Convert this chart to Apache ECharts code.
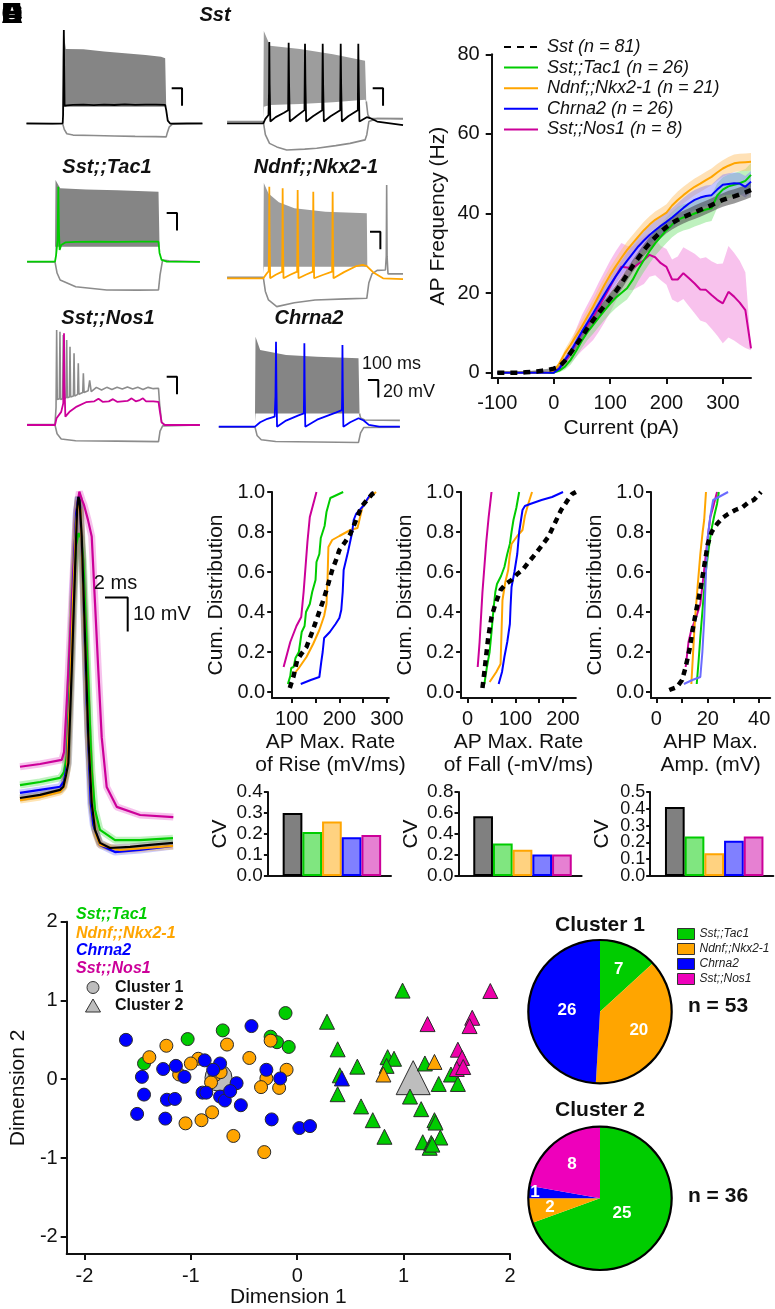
<!DOCTYPE html>
<html>
<head>
<meta charset="utf-8">
<script src="https://cdn.jsdelivr.net/npm/echarts@6.0.0/dist/echarts.min.js"></script>
<style>
html,body{margin:0;padding:0;background:#fff;}
#chart{width:775px;height:1309px;}
</style>
</head>
<body>
<div id="chart"></div>
<script>
// ===================== DATA =====================
const groups = ['Sst', 'Sst;;Tac1', 'Ndnf;;Nkx2-1', 'Chrna2', 'Sst;;Nos1'];
const groupN = [81, 26, 21, 26, 8];

// ---- Panel A: example traces [time (ms), Vm (mV)] ----
const sstL_main = [[-350,-65],[-100,-65.3],[0,-65],[4,-55],[8,10],[11,41.5],[14,0],[18,-45],[25,-47],[40,-44.5],[100,-44],[200,-43.6],[300,-44.2],[400,-43.7],[500,-44.1],[600,-43.5],[700,-44],[800,-43.6],[900,-43.8],[990,-44],[1000,-50],[1015,-62],[1040,-65.5],[1200,-65.2],[1350,-65]];
const sstL_hyp = [[-350,-65.5],[0,-65.5],[15,-72],[40,-77],[100,-78.5],[300,-79],[500,-79.5],[700,-80],[900,-80.3],[1000,-80.5],[1010,-76],[1030,-69],[1060,-66],[1350,-65.5]];
const sstL_env = {t:[0,8,30,200,400,600,800,950,990,1000], hi:[-50,40,20,19.6,17,15,13,11,9.3,-46], lo:[-60,-46,-46,-46,-46,-46,-46,-46,-46,-46]};

const sstR_main = [[-350,-65],[0,-65],[20,-60],[50,-55.5],[55,-30],[58,28],[61,-20],[68,-63],[120,-58],[200,-53],[240,-50],[245,27],[249,-20],[256,-63],[320,-57],[398,-50],[403,26],[407,-20],[414,-63],[480,-57],[569,-50],[574,26],[578,-20],[585,-63],[650,-57],[743,-50],[748,26],[752,-20],[759,-63],[820,-57],[913,-50],[918,26],[922,-20],[929,-63],[1000,-58],[1030,-59],[1100,-63],[1350,-67]];
const sstR_hyp = [[-350,-63],[0,-63],[20,-78],[60,-88],[130,-92],[226,-95.5],[400,-94.5],[516,-93.6],[700,-90.5],[838,-88],[983,-84],[1000,-78],[1020,-63],[1031,-61],[1100,-59.5],[1350,-60]];
const sstR_env = {t:[0,5,65,354,673,983,995], hi:[-50,40.6,23.5,19.8,14,6.4,-40], lo:[-60,-46,-44,-43,-41,-38,-40]};
const sstR_post = [[995,-40],[1010,-55],[1030,-59.3],[1350,-59.5]];

const tac1_main = [[-270,-65],[0,-65],[10,-58],[25,-40],[32,20.7],[38,-30],[45,-51.6],[60,-46],[100,-43],[200,-42.3],[400,-42],[600,-42.3],[800,-42],[1000,-42.2],[1010,-55],[1030,-63],[1080,-65],[1400,-65.3]];
const tac1_hyp = [[-270,-65.3],[0,-65.3],[20,-78],[50,-86],[200,-93.6],[500,-97.3],[800,-97.5],[1000,-97.3],[1015,-80],[1040,-63],[1100,-64],[1400,-65]];
const tac1_env = {t:[0,5,50,300,600,1000,1010], hi:[-50,28.4,18.9,17.5,16.5,15,-47.9], lo:[-60,-47.9,-47.9,-47.9,-47.9,-47.9,-47.9]};

const ndnf_main = [[-350,-65],[0,-65],[30,-60],[52,-57],[55,-30],[58,39.7],[61,-20],[66,-65],[120,-61],[182,-57.4],[184,-30],[187,37.9],[190,-20],[195,-65],[260,-61],[327,-57.4],[329,-30],[332,35.9],[335,-20],[340,-65],[410,-61],[478,-57.4],[480,-30],[483,34],[486,-20],[491,-65],[580,-61],[665,-57.4],[667,-30],[670,34],[673,-20],[678,-65],[780,-58],[900,-51],[960,-49.8],[1000,-51],[1060,-58],[1157,-65],[1350,-66]];
const ndnf_hyp = [[-350,-64],[0,-64],[20,-80],[50,-89.8],[130,-97.4],[300,-93],[500,-89.8],[800,-88.5],[1000,-87.9],[1020,-70],[1050,-60],[1100,-56],[1180,-55.5],[1188,-40],[1192,41.6],[1196,-40],[1205,-60],[1260,-60],[1350,-60]];
const ndnf_env = {t:[0,5,50,150,300,600,1000,1005], hi:[-50,43.8,32,22,15,11,9.3,-51.7], lo:[-60,-51.7,-51.7,-51.7,-51.7,-51.7,-51.7,-51.7]};

const nos1_main = [[-270,-65],[0,-65],[15,-57.4],[60,-50],[80,-40],[87,39.8],[92,-20],[100,-55.5],[140,-50],[210,-44],[300,-39],[380,-38],[420,-35],[460,-38.5],[520,-38],[560,-35.5],[600,-38.5],[650,-38],[700,-37.5],[740,-34.6],[780,-38],[820,-36.5],[850,-34.5],[880,-38],[950,-38],[1000,-38.5],[1014,-50],[1030,-62],[1060,-65],[1400,-65]];
const nos1_hyp = [[-270,-65],[0,-65],[20,-75],[60,-81],[200,-83],[600,-83.5],[1000,-84],[1015,-72],[1040,-66],[1400,-65]];
const nos1_gray = [[-270,-64.5],[0,-64.5],[10,-45],[16,43.6],[22,-36],[42,-35],[48,41.6],[54,-36],[74,-35],[80,37.9],[86,-35],[107,-34],[113,32.1],[119,-34],[139,-33],[145,24.5],[151,-33],[178,-32],[184,16.9],[190,-32],[219,-30],[225,5.5],[231,-30],[268,-28],[274,-5.9],[281,-28],[320,-26],[335,-14],[350,-27],[400,-22],[450,-25],[500,-22],[550,-24.5],[600,-22],[650,-24],[700,-21.5],[750,-24],[800,-22],[850,-24.5],[900,-22],[950,-23.5],[1000,-23],[1010,-40],[1030,-62],[1060,-65],[1400,-65]];

const chrna2_main = [[-350,-65],[0,-65],[50,-60],[120,-56],[190,-53.6],[198,-30],[203,32],[207,-20],[213,-65],[300,-58],[420,-52],[472,-49.7],[474,-30],[477,30.3],[480,-20],[486,-65],[600,-57],[780,-49],[840,-46],[842,-30],[845,28.4],[848,-20],[854,-65],[920,-60],[1000,-55.4],[1050,-58],[1100,-63],[1200,-65],[1400,-65]];
const chrna2_hyp = [[-350,-65.5],[0,-65.5],[20,-75],[60,-80],[200,-82],[600,-82.5],[1000,-83],[1020,-72],[1050,-66],[1400,-65.5]];
const chrna2_env = {t:[0,5,50,300,600,1000,1010], hi:[-50,37.9,22.7,17,15,13.2,-50], lo:[-60,-50,-50,-50,-50,-50,-50]};
const chrna2_post = [[1010,-50],[1020,-55],[1060,-57.3],[1400,-57.8]];

// ---- Panel B: F-I curves (mean and SEM, Hz) ----
const fiCurrent = [-100,-90,-80,-70,-60,-50,-40,-30,-20,-10,0,10,20,30,40,50,60,70,80,90,100,110,120,130,140,150,160,170,180,190,200,210,220,230,240,250,260,270,280,290,300,310,320,330,340,350];
const fiSst    = [0,0,0,0,0,0.1,0.2,0.3,0.5,0.7, 1.0,1.5,3,5,7,9,11.2,13.2,15,16.8, 18.6,20.4,22.4,24.6,26.8,28.8,30.8,32.5,34,35.4, 36.6,37.6,38.4,39.1,39.7,40.3,40.9,41.5,42.1,42.8, 43.4,43.9,44.3,44.8,45.3,45.9];
const semSst   = [0.3,0.3,0.3,0.3,0.3,0.3,0.3,0.3,0.3,0.3, 0.3,0.6,0.8,1.0,1.1,1.2,1.3,1.3,1.4,1.4, 1.4,1.5,1.5,1.5,1.5,1.5,1.5,1.6,1.6,1.6, 1.6,1.6,1.6,1.6,1.6,1.7,1.7,1.7,1.7,1.7, 1.7,1.8,1.8,1.8,1.8,1.8];
const fiTac1   = [0,0,0,0,0,0,0,0,0,0, 0,0.5,1.5,3.2,5.5,8,10.2,12,13.8,15.6, 17.3,18.8,20,21.2,23.3,26,28.3,30.5,32.5,34.2, 35.8,37.2,38.4,39,39.4,40,40.5,41,41.3,44.5, 46,46.8,47.2,47.6,48.2,49.7];
const semTac1  = [0.2,0.2,0.2,0.2,0.2,0.2,0.2,0.2,0.2,0.2, 0.2,0.4,0.8,1.2,1.5,1.8,2,2.2,2.3,2.4, 2.5,2.6,2.7,2.8,2.9,3,3,3.1,3.1,3.2, 3.2,3.2,3.3,3.3,3.3,3.3,3.3,3.2,3.2,3.1, 3.1,3,3,3,3,3];
const fiNdnf   = [0,0,0,0,0,0,0,0,0,0, 0.3,2.3,4.9,7,9.3,11.6,14.1,16.6,19.3,22, 24.5,26.7,28.8,30.8,32.5,34.2,35.8,37.2,38.4,39.3, 40.2,42,43.4,44.6,45.7,46.7,47.5,48.4,49.2,50.3, 51.3,52,52.6,52.8,52.9,53];
const semNdnf  = [0.2,0.2,0.2,0.2,0.2,0.2,0.2,0.2,0.2,0.2, 0.2,0.6,1,1.3,1.5,1.7,1.8,1.9,2,2, 2,2,2.1,2.1,2.1,2.1,2.1,2.1,2.1,2.1, 2.1,2.1,2.1,2.1,2.1,2.1,2.1,2.1,2.1,2.1, 2.1,2.2,2.2,2.2,2.2,2.2];
const fiChrna2 = [0,0,0,0,0,0,0,0,0,0, 0,1,3.2,5.2,7.8,10.3,12.6,14.9,17.3,19.7, 22,24.2,26.2,28.1,29.9,31.7,33.2,34.6,35.8,36.9, 37.9,39,40.2,41.4,42.5,43.4,44,44.4,44.6,46, 47.2,47.4,47.6,47.5,46.7,48];
const semChrna2= [0.2,0.2,0.2,0.2,0.2,0.2,0.2,0.2,0.2,0.2, 0.2,0.5,0.8,1,1.2,1.4,1.5,1.6,1.7,1.8, 1.9,2,2,2.1,2.1,2.2,2.2,2.3,2.3,2.3, 2.4,2.4,2.4,2.5,2.5,2.5,2.5,2.6,2.6,2.6, 2.6,2.7,2.7,2.7,2.7,2.7];
const fiNos1   = [0,0,0,0,0,0,0,0,0,0, 0,1,2.8,4.9,7.5,10,12,14,16.5,19, 21.6,24.2,26.6,26.4,26.2,27.3,28.3,29.6,29,27.5, 26.6,23.4,23.4,25,23.7,22.4,20.9,20.8,19.5,18.3, 17.4,20.3,19.1,17.6,15.7,6.1];
const semNos1  = [0.2,0.2,0.2,0.2,0.2,0.2,0.2,0.2,0.2,0.2, 0.2,0.8,1.5,2.5,3.5,4.5,5.2,5.8,6.2,6.4, 6.5,6.3,6,5.5,5.5,5.8,6,5.5,4.5,4.3, 4.5,5,5.8,6.5,7,7.5,7.8,8.2,8.5,9, 10,11.5,11,10.5,9.5,0.5];
const fiXTicks = [-100, 0, 100, 200, 300];
const fiYTicks = [0, 20, 40, 60, 80];

// ---- Panel C: average AP waveforms [time from peak (ms), Vm (mV)] ----
const apSst    = [[-5.14,-60],[-3.37,-59.1],[-1.61,-57.6],[-1.32,-56.7],[-1.08,-53.2],[-0.88,-49.7],[-0.58,-22.4],[-0.29,7.1],[-0.11,24.7],[0,28.6],[0.11,27.6],[0.3,16.9],[0.59,-12.6],[0.88,-42],[1.18,-61.5],[1.47,-69.4],[1.91,-73.2],[2.79,-74.7],[4.56,-74.4],[6.32,-73.8],[8.34,-73.2]];
const apTac1   = [[-5.14,-56.2],[-3.37,-55.3],[-1.61,-54.1],[-1.26,-52.4],[-1.0,-47.4],[-0.73,-25.3],[-0.47,-1.8],[-0.2,14.4],[0.02,17.9],[0.24,16.5],[0.44,10],[0.83,-22.4],[1.18,-51.8],[1.47,-63.5],[1.91,-69.4],[3.23,-72.4],[5.43,-72.4],[8.34,-71.8]];
const apNdnf   = [[-5.14,-60.6],[-3.37,-59.7],[-1.61,-58.2],[-1.26,-56.8],[-1.0,-51.8],[-0.73,-29.7],[-0.47,-1.8],[-0.2,20.3],[0,27.6],[0.19,24.7],[0.5,-4.7],[0.85,-40],[1.21,-62.1],[1.56,-70.9],[1.91,-73.8],[3.67,-75.3],[8.34,-74.1]];
const apChrna2 = [[-5.14,-58.5],[-3.37,-57.6],[-1.61,-56.7],[-1.26,-55],[-1.0,-50.3],[-0.73,-28.2],[-0.47,1.2],[-0.2,23.2],[0,28.5],[0.15,26.2],[0.41,4.1],[0.74,-32.1],[1.09,-61.5],[1.32,-67.9],[1.91,-73.8],[3.23,-75.9],[5.43,-75.3],[8.34,-74.1]];
const apNos1   = [[-5.14,-50.8],[-3.37,-50],[-1.46,-48.8],[-1.26,-46.5],[-1.02,-32.1],[-0.73,-12.6],[-0.44,7.1],[-0.14,24.7],[0.09,30.1],[0.33,27.6],[0.5,26.2],[0.85,21.8],[1.18,16.9],[1.47,-2.6],[1.76,-22.4],[2.06,-42.1],[2.5,-56.8],[3.38,-62.6],[5.44,-65],[8.37,-65.6]];

// ---- Panel D: cumulative distributions [value, cumulative fraction] ----
const cumRiseSst    = [[96,0.02],[104,0.08],[111.5,0.16],[120,0.19],[131,0.225],[143,0.3],[154,0.375],[165,0.45],[173,0.51],[185,0.61],[193,0.66],[200,0.71],[212,0.75],[223,0.79],[235,0.86],[246,0.925],[258,0.96],[269,0.99],[277,1.0]];
const cumRiseTac1   = [[92,0.04],[97,0.08],[99,0.12],[104,0.125],[108,0.17],[115,0.2],[118,0.25],[121,0.3],[127,0.33],[130,0.4],[138,0.44],[143,0.5],[150,0.56],[152,0.65],[158,0.69],[161,0.77],[165,0.8],[169,0.83],[173,0.9],[181,0.97],[208,1.0]];
const cumRiseNdnf   = [[100,0.075],[115,0.12],[131,0.175],[145,0.24],[158,0.31],[168,0.38],[173,0.44],[175,0.55],[177,0.725],[185,0.76],[200,0.78],[223,0.81],[238,0.82],[244,0.88],[250,0.94],[262,0.97],[277,1.0]];
const cumRiseChrna2 = [[119,0.04],[140,0.06],[158,0.075],[162,0.15],[165,0.2],[168,0.27],[180,0.3],[192,0.34],[200,0.37],[204,0.41],[207,0.5],[209,0.61],[218,0.7],[227,0.8],[230,0.86],[235,0.89],[250,0.93],[260,0.97],[269,1.0]];
const cumRiseNos1   = [[83,0.125],[97,0.25],[110,0.33],[120,0.375],[125,0.5],[129,0.625],[133,0.75],[138,0.875],[152,1.0]];
const cumFallSst    = [[31,0.02],[35,0.1],[38.5,0.175],[43,0.27],[50,0.375],[58,0.44],[69,0.51],[80,0.54],[92,0.56],[104,0.59],[115,0.61],[128,0.65],[142,0.69],[155,0.73],[169,0.775],[182,0.84],[196,0.91],[210,0.96],[219,0.99],[227,1.0]];
const cumFallTac1   = [[35,0.04],[40,0.12],[46,0.2],[50,0.3],[54,0.41],[58,0.5],[61.5,0.54],[70,0.58],[77,0.625],[83,0.69],[88.5,0.74],[92,0.8],[96,0.86],[102,0.92],[108,1.0]];
const cumFallNdnf   = [[46,0.05],[60,0.1],[69,0.14],[71,0.3],[73,0.46],[79,0.55],[85,0.61],[88,0.68],[92,0.74],[104,0.78],[115,0.81],[120,0.88],[127,0.94],[135,1.0]];
const cumFallChrna2 = [[65,0.04],[72,0.1],[77,0.175],[83,0.25],[88.5,0.34],[90,0.43],[92,0.525],[98,0.6],[104,0.69],[108,0.8],[115,0.91],[120,0.93],[131,0.94],[155,0.96],[177,0.975],[200,1.0]];
const cumFallNos1   = [[21,0.125],[25,0.25],[28,0.375],[31,0.5],[35,0.625],[39,0.75],[44,0.875],[50,1.0]];
const cumAhpSst     = [[5,0.01],[8,0.025],[10,0.06],[11.4,0.125],[13,0.22],[14.3,0.325],[15.7,0.42],[17.1,0.51],[18.5,0.62],[20,0.74],[21.5,0.8],[23.6,0.84],[25.7,0.87],[27.9,0.89],[30.7,0.91],[33.6,0.925],[36,0.95],[37.9,0.96],[40.7,1.0]];
const cumAhpTac1    = [[15.7,0.04],[16.4,0.15],[17.1,0.275],[18.2,0.45],[19.3,0.61],[20.4,0.72],[21.4,0.81],[22.5,0.88],[23.6,0.94],[24.3,1.0]];
const cumAhpNdnf    = [[13.6,0.04],[14.3,0.2],[15,0.36],[16,0.52],[17.1,0.69],[18,0.8],[18.6,0.86],[19.3,1.0]];
const cumAhpChrna2  = [[10.7,0.04],[14,0.06],[17.1,0.075],[17.9,0.2],[18.6,0.36],[19.3,0.6],[20,0.775],[21,0.88],[22.1,0.96],[25,0.98],[27.9,1.0]];
const cumAhpNos1    = [[11.4,0.125],[12.5,0.25],[13.6,0.31],[15.5,0.375],[17.1,0.44],[18.5,0.6],[20,0.775],[21,0.875],[22.1,0.925],[23.6,1.0]];
const riseTicks = [100,150,200,250,300], riseLabels = [100,200,300];
const fallTicks = [0,50,100,150,200], fallLabels = [0,100,200];
const ahpTicks = [0,10,20,30,40], ahpLabels = [0,20,40];
const cumYTicks = [0,0.2,0.4,0.6,0.8,1.0];

// ---- Panel D: coefficient of variation (order = groups) ----
const cvRise = [0.30, 0.21, 0.26, 0.185, 0.195];
const cvFall = [0.57, 0.31, 0.25, 0.205, 0.205];
const cvAhp  = [0.41, 0.235, 0.135, 0.21, 0.235];
const cvRiseTicks = [0, 0.1, 0.2, 0.3, 0.4];
const cvFallTicks = [0, 0.2, 0.4, 0.6, 0.8];
const cvAhpTicks  = [0, 0.1, 0.2, 0.3, 0.4, 0.5];
const cvAhpLabelsA = [0, 0.2, 0.4];
const cvAhpLabelsB = [0.1, 0.3, 0.5];

// ---- Panel E: MDS scatter [Dimension 1, Dimension 2] ----
const c1Tac1   = [[-0.11,0.84],[-0.70,0.62],[-1.03,0.51],[-0.25,0.54],[-0.19,0.47],[-0.08,0.41],[-1.44,0.20]];
const c1Ndnf   = [[-1.23,0.425],[-0.66,0.44],[-0.25,0.49],[-1.39,0.28],[-0.93,0.26],[-1.00,0.20],[-0.45,0.27],[-1.11,0.06],[-0.77,0.055],[-0.72,0.09],[-0.81,-0.04],[-0.10,0.12],[-0.29,0.01],[-0.34,-0.10],[-0.17,-0.11],[-1.05,-0.56],[-0.90,-0.52],[-0.80,-0.42],[-0.60,-0.72],[-0.31,-0.925]];
const c1Chrna2 = [[-1.61,0.50],[-0.43,0.675],[-0.87,0.24],[-1.26,0.13],[-1.14,0.17],[-1.06,0.03],[-1.46,0.03],[-0.725,0.20],[-0.79,0.12],[-0.29,0.12],[-0.16,0.01],[-0.57,-0.05],[-1.44,-0.195],[-1.225,-0.26],[-1.15,-0.25],[-0.89,-0.17],[-0.855,-0.17],[-0.725,-0.22],[-0.68,-0.27],[-0.63,-0.15],[-0.53,-0.33],[-1.505,-0.44],[-1.24,-0.50],[-0.24,-0.51],[0.02,-0.62],[0.12,-0.595]];
const c2Tac1   = [[0.28,0.73],[0.99,1.125],[0.38,0.38],[0.565,0.16],[0.85,0.28],[0.91,0.26],[0.84,0.17],[1.20,0.20],[0.40,0.05],[1.445,0.06],[1.33,-0.06],[1.51,-0.06],[0.38,-0.19],[1.06,-0.22],[0.60,-0.345],[1.165,-0.38],[0.71,-0.52],[0.82,-0.73],[1.29,-0.52],[1.30,-0.55],[1.345,-0.74],[1.18,-0.80],[1.26,-0.81],[1.245,-0.87],[1.27,-0.83]];
const c2Ndnf   = [[1.29,0.22],[0.81,0.06]];
const c2Chrna2 = [[0.42,0.01]];
const c2Nos1   = [[1.815,1.12],[1.225,0.70],[1.645,0.78],[1.62,0.675],[1.51,0.375],[1.55,0.27],[1.50,0.13],[1.56,0.155]];
const c1Centroid = [[-0.74,0.02]];
const c2Centroid = [[1.09,0.02]];
const dimTicks = [-2,-1,0,1,2];

// ---- Panel E: cluster composition ----
const pieGroups = ['Sst;;Tac1', 'Ndnf;;Nkx2-1', 'Chrna2', 'Sst;;Nos1'];
const cluster1Counts = [7, 20, 26, 0];
const cluster2Counts = [25, 2, 1, 8];

// ===================== STYLE =====================
const FONT = '"Liberation Sans", Arial, Helvetica, sans-serif';
const AX = '#111111';
const COL = ['#000000', '#00cc00', '#ffa500', '#0000ff', '#cc0099'];
const BAND = ['rgba(70,70,70,0.55)', 'rgba(110,225,110,0.45)', 'rgba(255,195,110,0.5)', 'rgba(130,130,255,0.45)', 'rgba(240,120,215,0.45)'];
const CV_FILL = ['#808080', '#80e680', '#ffd280', '#8080ff', '#e680d2'];
const PIE_COL = ['#00cc00', '#ffa500', '#0000ff', '#ee00bb'];
const SC_COL = ['#00cc00', '#ffa500', '#0000ff', '#ee00aa'];
const PIE_R = 71.7;
const PIE1_LABEL_R = [0.65, 0.6, 0.46, 0.5];
const PIE2_LABEL_R = [0.375, 0.71, 0.91, 0.61];

const grids = [], xAxes = [], yAxes = [], series = [], graphics = [], extraY = [];

function addGrid(g, xa, ya) {
  const i = grids.length;
  grids.push(g);
  xAxes.push(Object.assign({gridIndex: i, type: 'value', splitLine: {show: false}}, xa));
  yAxes.push(Object.assign({gridIndex: i, type: 'value', splitLine: {show: false}}, ya));
  return i;
}
function hidden(min, max) { return {min, max, show: false}; }
function line(i, data, color, width, extra) {
  series.push(Object.assign({
    type: 'line', xAxisIndex: i, yAxisIndex: i, data, showSymbol: false, symbol: 'none',
    silent: true, lineStyle: {color, width}, itemStyle: {color}, z: 3, animation: false
  }, extra || {}));
}
function band(i, xs, lo, hi, color, z) {
  const data = xs.map((x, k) => [x, lo[k], hi[k]]);
  series.push({
    type: 'custom', xAxisIndex: i, yAxisIndex: i, silent: true, z: z || 2, data,
    encode: {x: 0, y: [1, 2]},
    renderItem: function (params, api) {
      if (params.dataIndex !== 0) return null;
      const top = data.map(d => api.coord([d[0], d[2]]));
      const bot = data.map(d => api.coord([d[0], d[1]])).reverse();
      return {type: 'polygon', shape: {points: top.concat(bot)}, style: {fill: color}};
    }
  });
}
function axisStyle(o) {
  return Object.assign({
    axisLine: {show: true, onZero: false, lineStyle: {color: AX, width: 2}},
    axisTick: {show: true, length: 5, lineStyle: {color: AX, width: 2}},
    axisLabel: {show: true, fontSize: 20, fontFamily: FONT, color: AX},
    nameLocation: 'middle',
    nameTextStyle: {fontSize: 21, fontFamily: FONT, color: AX}
  }, o);
}
function ticks(vals, len) {
  return {show: true, length: len || 5, lineStyle: {color: AX, width: 2}, customValues: vals};
}
function labels(vals, margin, size, fmt) {
  const o = {show: true, fontSize: size || 20, fontFamily: FONT, color: AX, margin: margin, customValues: vals,
             showMinLabel: true, showMaxLabel: true, hideOverlap: false};
  if (fmt) o.formatter = fmt;
  return o;
}
function txt(x, y, text, font, fill, align, extra) {
  graphics.push(Object.assign({
    type: 'text', x, y, silent: true, z: 100,
    style: {text, font, fill: fill || AX, textAlign: align || 'center', align: align || 'center',
            textVerticalAlign: 'middle', verticalAlign: 'middle'}
  }, extra || {}));
}

// ===================== PANEL A =====================
const TW = 186.3, TH = 157.5;
const panels = [
  {left: 21.3, top: 13.9, col: COL[0], main: sstL_main, hyp: sstL_hyp, env: sstL_env, bar: [1053, -25], g: '#858585'},
  {left: 221.9, top: 13.9, col: COL[0], main: sstR_main, hyp: sstR_hyp, env: sstR_env, post: sstR_post, bar: [1057, -25], g: '#9d9d9d'},
  {left: 13.6, top: 152.3, col: COL[1], main: tac1_main, hyp: tac1_hyp, env: tac1_env, bar: [1079, -9.3], g: '#858585'},
  {left: 221.9, top: 168.9, col: COL[2], main: ndnf_main, hyp: ndnf_hyp, env: ndnf_env, bar: [1031, -11.7], g: '#9d9d9d'},
  {left: 13.6, top: 315.6, col: COL[4], main: nos1_main, hyp: nos1_hyp, post: nos1_gray, bar: [1079, -9.8]},
  {left: 213.6, top: 317.3, col: COL[3], main: chrna2_main, hyp: chrna2_hyp, env: chrna2_env, post: chrna2_post, bar: [1091, -11.6], g: '#858585'}
];
panels.forEach(p => {
  const i = addGrid({left: p.left, top: p.top, width: TW, height: TH}, hidden(-400, 1400), hidden(-120, 60));
  if (p.env) band(i, p.env.t, p.env.lo, p.env.hi, p.g, 1);
  line(i, p.hyp, '#8c8c8c', 1.6, {z: 2});
  if (p.post) line(i, p.post, '#8c8c8c', 1.6, {z: 2});
  line(i, p.main, p.col, 1.8, {z: 4});
  const b = p.bar;
  line(i, [[b[0], b[1]], [b[0] + 100, b[1]], [b[0] + 100, b[1] - 20]], '#000', 2, {z: 5});
});
txt(215, 15, 'Sst', 'italic bold 20px ' + FONT);
txt(107, 167, 'Sst;;Tac1', 'italic bold 20px ' + FONT);
txt(316, 167, 'Ndnf;;Nkx2-1', 'italic bold 20px ' + FONT);
txt(108, 318, 'Sst;;Nos1', 'italic bold 20px ' + FONT);
txt(309, 318, 'Chrna2', 'italic bold 20px ' + FONT);
txt(362, 364, '100 ms', '18px ' + FONT, AX, 'left');
txt(383, 392, '20 mV', '18px ' + FONT, AX, 'left');
['A', 'B', 'C', 'D', 'E'].forEach(L => txt(12, 15, L, 'bold 30px ' + FONT, '#000'));

// ===================== PANEL B =====================
const fiMeans = [fiSst, fiTac1, fiNdnf, fiChrna2, fiNos1];
const fiSems = [semSst, semTac1, semNdnf, semChrna2, semNos1];
const fiNames = groups.map((g, k) => g + ' (n = ' + groupN[k] + ')');
const gFI = addGrid({left: 491.7, top: 54.3, width: 259.3, height: 323.7},
  axisStyle({min: -110, max: 350, name: 'Current (pA)', nameGap: 40,
    axisTick: ticks(fiXTicks, 6), axisLabel: labels(fiXTicks, 15)}),
  axisStyle({min: -1.35, max: 80, name: 'AP Frequency (Hz)', nameGap: 43,
    axisTick: ticks(fiYTicks, 6), axisLabel: labels(fiYTicks, 12)}));
[4, 1, 2, 3, 0].forEach(k => {
  const lo = fiMeans[k].map((m, j) => m - fiSems[k][j]);
  const hi = fiMeans[k].map((m, j) => m + fiSems[k][j]);
  band(gFI, fiCurrent, lo, hi, BAND[k], 2);
});
[4, 1, 2, 3, 0].forEach(k => {
  const data = fiCurrent.map((c, j) => [c, fiMeans[k][j]]);
  if (k === 0) line(gFI, data, COL[0], 4.5, {name: fiNames[0], z: 6, lineStyle: {color: '#000', width: 4.5, type: [7, 6]}});
  else line(gFI, data, COL[k], 2, {name: fiNames[k], z: 5});
});

// ===================== PANEL C =====================
const gAP = addGrid({left: 19.3, top: 475, width: 155.5, height: 391}, hidden(-5.2, 8.5), hidden(-80, 35));
const aps = [apSst, apTac1, apNdnf, apChrna2, apNos1];
const HALO = ['rgba(90,90,90,0.35)', 'rgba(0,204,0,0.25)', 'rgba(255,165,0,0.3)', 'rgba(80,80,255,0.3)', 'rgba(230,80,200,0.35)'];
[4, 1, 3, 2, 0].forEach(k => line(gAP, aps[k], HALO[k], 7, {z: 2}));
[4, 1, 3, 2, 0].forEach(k => line(gAP, aps[k], COL[k], 2.2, {z: 4}));
line(gAP, [[2.35, -1], [4.35, -1], [4.35, -11]], '#000', 2, {z: 5});
txt(115.5, 583, '2 ms', '20px ' + FONT);
txt(133, 614, '10 mV', '20px ' + FONT, AX, 'left');

// ===================== PANEL D =====================
const cumSets = [
  {left: 272.2, width: 116.6, min: 59.1, max: 303.7, ticks: riseTicks, labels: riseLabels, name: 'AP Max. Rate\nof Rise (mV/ms)',
   data: [cumRiseSst, cumRiseTac1, cumRiseNdnf, cumRiseChrna2, cumRiseNos1]},
  {left: 461.1, width: 114.8, min: -13.8, max: 227, ticks: fallTicks, labels: fallLabels, name: 'AP Max. Rate\nof Fall (-mV/ms)',
   data: [cumFallSst, cumFallTac1, cumFallNdnf, cumFallChrna2, cumFallNos1]},
  {left: 651, width: 119.2, min: -2.1, max: 44.3, ticks: ahpTicks, labels: ahpLabels, name: 'AHP Max.\nAmp. (mV)',
   data: [cumAhpSst, cumAhpTac1, cumAhpNdnf, cumAhpChrna2, cumAhpNos1], lightBlue: true}
];
cumSets.forEach(s => {
  const i = addGrid({left: s.left, top: 492, width: s.width, height: 206},
    axisStyle({min: s.min, max: s.max, name: s.name, nameGap: 33,
      nameTextStyle: {fontSize: 21, fontFamily: FONT, color: AX, lineHeight: 23},
      axisTick: ticks(s.ticks, 5), axisLabel: labels(s.labels, 11)}),
    axisStyle({min: -0.03, max: 1.0, name: 'Cum. Distribution', nameGap: 45,
      axisTick: ticks(cumYTicks, 5), axisLabel: labels(cumYTicks, 7, 20, v => v.toFixed(1))}));
  [4, 1, 2, 3].forEach(k => {
    const c = (k === 3 && s.lightBlue) ? '#6b6bff' : COL[k];
    line(i, s.data[k], c, 2, {z: 4});
  });
  line(i, s.data[0], '#000', 4.5, {z: 5, lineStyle: {color: '#000', width: 4.5, type: [6, 5]}});
});

const cvSets = [
  {left: 267.9, max: 0.4, ticks: cvRiseTicks, lab: cvRiseTicks, values: cvRise, fs: 19},
  {left: 458.5, max: 0.8, ticks: cvFallTicks, lab: cvFallTicks, values: cvFall, fs: 19},
  {left: 650.2, max: 0.5, ticks: cvAhpTicks, lab: cvAhpLabelsA, lab2: cvAhpLabelsB, values: cvAhp, fs: 18}
];
cvSets.forEach(s => {
  const i = addGrid({left: s.left, top: 792, width: 123.1, height: 84},
    axisStyle({min: -0.25, max: 6.0, axisTick: {show: false}, axisLabel: {show: false}}),
    axisStyle({min: 0, max: s.max, name: 'CV', nameGap: 37,
      axisTick: ticks(s.ticks, 4), axisLabel: labels(s.lab, 5, s.fs, v => v.toFixed(1))}));
  if (s.lab2) {
    // second label row on the same scale (interleaved labels that are too dense for one axis)
    extraY.push({gridIndex: i, type: 'value', position: 'left', min: 0, max: s.max, splitLine: {show: false},
      axisLine: {show: false}, axisTick: {show: false},
      axisLabel: labels(s.lab2, 5, s.fs, v => v.toFixed(1))});
  }
  series.push({
    type: 'bar', xAxisIndex: i, yAxisIndex: i, silent: true, barWidth: 19.7, z: 3,
    data: s.values.map((v, k) => ({value: [k + 1, v], itemStyle: {color: CV_FILL[k], borderColor: COL[k], borderWidth: 2}}))
  });
});

// ===================== PANEL E =====================
const gSc = addGrid({left: 60, top: 921.7, width: 450, height: 337.6},
  axisStyle({min: -2.167, max: 2.0, name: 'Dimension 1', nameGap: 30,
    axisTick: ticks(dimTicks, 6), axisLabel: labels(dimTicks, 12)}),
  axisStyle({min: -2.22, max: 2.0, name: 'Dimension 2', nameGap: 22,
    axisTick: ticks(dimTicks, 6), axisLabel: labels(dimTicks, 9)}));
function scat(data, sym, size, color, z) {
  series.push({type: 'scatter', xAxisIndex: gSc, yAxisIndex: gSc, data, symbol: sym, symbolSize: size, silent: true, z: z || 3,
    itemStyle: {color, borderColor: '#2a2a2a', borderWidth: 1, opacity: 1}});
}
scat(c1Centroid, 'circle', 27, '#bdbdbd', 2);
scat(c2Centroid, 'triangle', 34, '#bdbdbd', 2);
scat(c1Tac1, 'circle', 13, SC_COL[0]);
scat(c1Ndnf, 'circle', 13, SC_COL[1]);
scat(c1Chrna2, 'circle', 13, SC_COL[2]);
scat(c2Tac1, 'triangle', 15, SC_COL[0]);
scat(c2Ndnf, 'triangle', 15, SC_COL[1]);
scat(c2Chrna2, 'triangle', 15, SC_COL[2]);
scat(c2Nos1, 'triangle', 15, SC_COL[3]);

txt(76, 915, 'Sst;;Tac1', 'italic bold 16px ' + FONT, SC_COL[0], 'left');
txt(76, 933.3, 'Ndnf;;Nkx2-1', 'italic bold 16px ' + FONT, SC_COL[1], 'left');
txt(76, 951, 'Chrna2', 'italic bold 16px ' + FONT, SC_COL[2], 'left');
txt(76, 968.6, 'Sst;;Nos1', 'italic bold 16px ' + FONT, '#cc0099', 'left');
txt(115, 987.5, 'Cluster 1', 'bold 16px ' + FONT, AX, 'left');
txt(115, 1005.8, 'Cluster 2', 'bold 16px ' + FONT, AX, 'left');
graphics.push({type: 'circle', silent: true, z: 100, shape: {cx: 93, cy: 987.5, r: 6}, style: {fill: '#bdbdbd', stroke: '#333', lineWidth: 1}});
graphics.push({type: 'polygon', silent: true, z: 100, shape: {points: [[93, 999], [100.5, 1012], [85.5, 1012]]}, style: {fill: '#bdbdbd', stroke: '#333', lineWidth: 1}});

function pie(center, counts, labelR) {
  series.push({
    type: 'pie', center, radius: PIE_R, startAngle: 90, clockwise: true, silent: true, z: 3,
    data: pieGroups.map((n, k) => ({name: n, value: counts[k], itemStyle: {color: PIE_COL[k]}})).filter(d => d.value > 0),
    label: {show: false}, labelLine: {show: false}, emphasis: {disabled: true}, itemStyle: {borderWidth: 0}
  });
  series.push({
    type: 'pie', center, radius: [PIE_R - 1.1, PIE_R + 1.1], silent: true, z: 4, startAngle: 90,
    data: [{value: 1, name: 'outline', itemStyle: {color: '#000'}}],
    label: {show: false}, labelLine: {show: false}, emphasis: {disabled: true}
  });
  // slice count labels placed at each slice's mid-angle
  const total = counts.reduce((a, b) => a + b, 0);
  let acc = 0;
  counts.forEach((c, k) => {
    if (!c) return;
    const mid = (90 - (acc + c / 2) / total * 360) * Math.PI / 180;
    acc += c;
    const r = PIE_R * labelR[k];
    txt(center[0] + r * Math.cos(mid), center[1] - r * Math.sin(mid), String(c), 'bold 17px ' + FONT, '#ffffff');
  });
}
pie([600, 1011.7], cluster1Counts, PIE1_LABEL_R);
pie([600, 1198.3], cluster2Counts, PIE2_LABEL_R);
txt(600, 925, 'Cluster 1', 'bold 21px ' + FONT);
txt(600, 1110, 'Cluster 2', 'bold 21px ' + FONT);
txt(718, 1006.7, 'n = 53', 'bold 21px ' + FONT);
txt(718, 1196.7, 'n = 36', 'bold 21px ' + FONT);

// ===================== CHART =====================
const chart = echarts.init(document.getElementById('chart'), null, {renderer: 'canvas'});
chart.setOption({
  animation: false,
  backgroundColor: '#ffffff',
  textStyle: {fontFamily: FONT},
  grid: grids,
  xAxis: xAxes,
  yAxis: yAxes.concat(extraY),
  legend: [
    {data: fiNames, orient: 'vertical', left: 498, top: 33, itemWidth: 34, itemHeight: 14, itemGap: 2.6,
     selectedMode: false, itemStyle: {opacity: 0},
     textStyle: {fontFamily: FONT, fontSize: 18, fontStyle: 'italic', color: '#111', padding: [0, 0, 0, 4]}},
    {data: pieGroups, orient: 'vertical', left: 672, top: 923, itemWidth: 17, itemHeight: 11, itemGap: 3, icon: 'rect',
     selectedMode: false, itemStyle: {borderColor: '#333', borderWidth: 1},
     textStyle: {fontFamily: FONT, fontSize: 12, fontStyle: 'italic', color: '#222'}}
  ],
  graphic: graphics,
  series: series
});
</script>
</body>
</html>
